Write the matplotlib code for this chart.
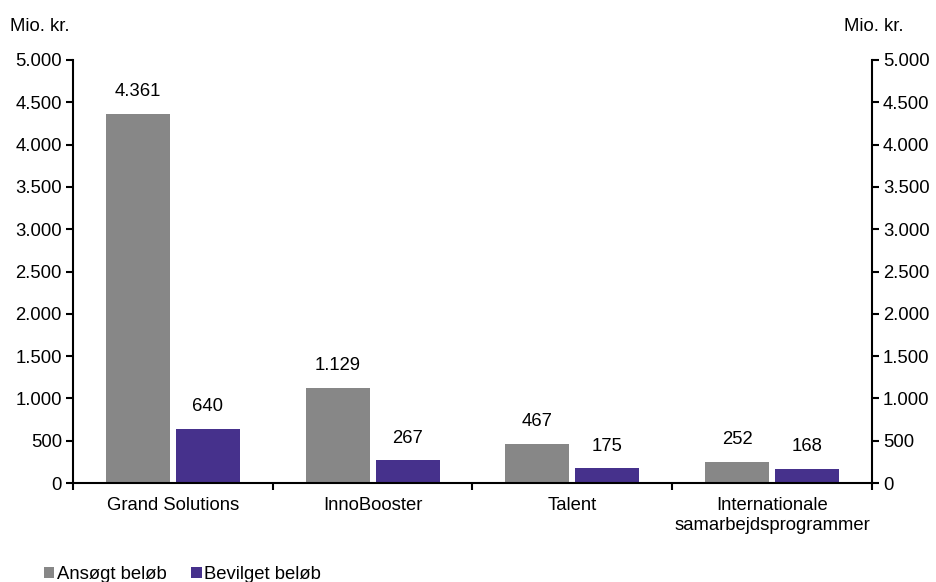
import matplotlib
matplotlib.use("Agg")
import matplotlib.pyplot as plt
import numpy as np

plt.rcParams['font.family'] = ['Liberation Sans', 'DejaVu Sans']

categories = ["Grand Solutions", "InnoBooster", "Talent", "Internationale\nsamarbejdsprogrammer"]
ansoegt = [4361, 1129, 467, 252]
bevilget = [640, 267, 175, 168]
series_names = ["Ansøgt beløb", "Bevilget beløb"]
yticks = [0, 500, 1000, 1500, 2000, 2500, 3000, 3500, 4000, 4500, 5000]

gray = "#878787"
purple = "#46318C"
fs = 13.3

def fmt(v):
    return f"{v:,.0f}".replace(",", ".")

fig = plt.figure(figsize=(9.36, 5.82), dpi=100)
ax = fig.add_axes([0.078, 0.170, 0.8536, 0.727])

x = np.arange(len(categories))
w = 0.32
gap = 0.015
b1 = ax.bar(x - w / 2 - gap, ansoegt, w, color=gray, label=series_names[0])
b2 = ax.bar(x + w / 2 + gap, bevilget, w, color=purple, label=series_names[1])

for bars, vals in ((b1, ansoegt), (b2, bevilget)):
    for r, v in zip(bars, vals):
        ax.text(r.get_x() + r.get_width() / 2, v + 160, fmt(v),
                ha="center", va="bottom", fontsize=fs)

ax.set_xlim(-0.5, len(categories) - 0.5)
ax.set_ylim(0, 5000)
ax.set_yticks(yticks)
ax.set_yticklabels([fmt(v) for v in yticks], fontsize=fs)
ax.set_xticks(x)
ax.set_xticklabels(categories, fontsize=fs, linespacing=1.2)
ax.tick_params(axis="x", length=0, pad=10)
ax.set_xticks(np.arange(-0.5, len(categories)), minor=True)
ax.tick_params(axis="x", which="minor", length=5, width=1.5, direction="out")
ax.tick_params(axis="y", length=5, width=1.5, direction="out", pad=3)

ax2 = ax.twinx()
ax2.set_ylim(0, 5000)
ax2.set_yticks(yticks)
ax2.set_yticklabels([fmt(v) for v in yticks], fontsize=fs)
ax2.tick_params(axis="y", length=5, width=1.5, direction="out", pad=3)

for a in (ax, ax2):
    a.spines["top"].set_visible(False)
    for s in ("left", "right", "bottom"):
        a.spines[s].set_linewidth(1.5)
ax.spines["right"].set_visible(False)
ax2.spines["left"].set_visible(False)
ax2.spines["bottom"].set_visible(False)

fig.text(0.011, 0.955, "Mio. kr.", fontsize=fs, ha="left", va="center")
fig.text(0.965, 0.955, "Mio. kr.", fontsize=fs, ha="right", va="center")

fig.legend(handles=[b1, b2], loc="lower left", bbox_to_anchor=(0.029, -0.031),
           ncol=2, frameon=False, fontsize=fs, handlelength=0.55,
           handleheight=0.55, handletextpad=0.15, columnspacing=1.35)

fig.savefig("out.png", dpi=100)
